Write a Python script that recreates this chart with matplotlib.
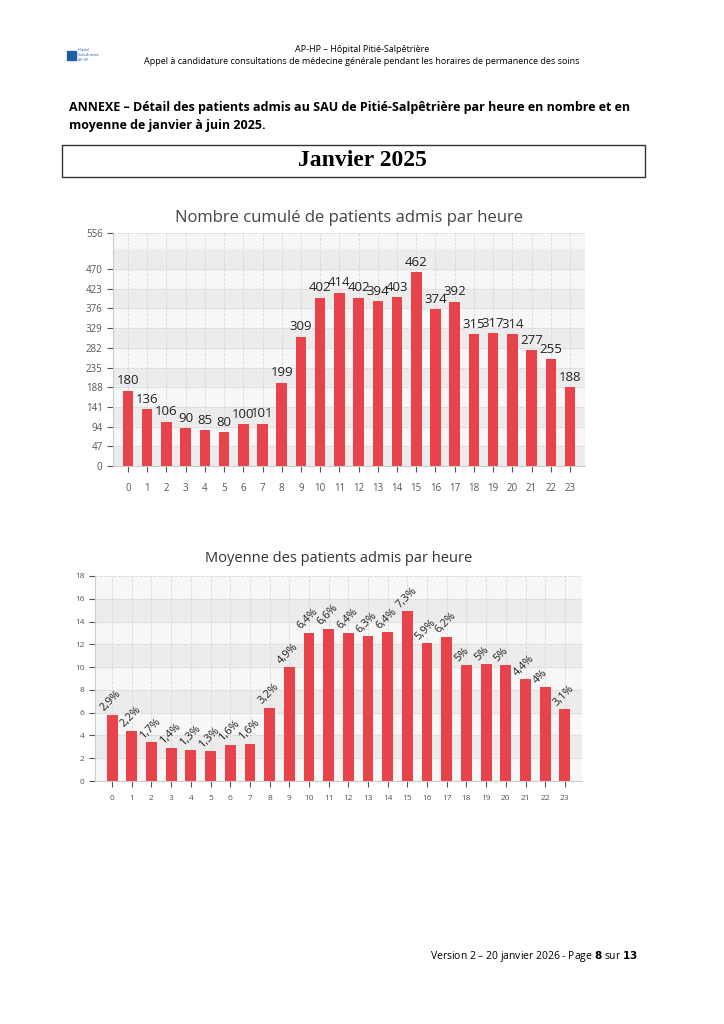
import numpy as np
from matplotlib import pyplot as plt
from matplotlib.patches import Rectangle

hours = list(range(24))
counts = [180, 136, 106, 90, 85, 80, 100, 101, 199, 309, 402, 414,
          402, 394, 403, 462, 374, 392, 315, 317, 314, 277, 255, 188]
means = [5.8, 4.4, 3.4, 2.9, 2.75, 2.6, 3.2, 3.25, 6.45, 10.0, 13.0, 13.35,
         13.0, 12.7, 13.05, 14.9, 12.1, 12.65, 10.2, 10.25, 10.15, 8.95, 8.25, 6.3]
pct_labels = ["2,9%", "2,2%", "1,7%", "1,4%", "1,3%", "1,3%", "1,6%", "1,6%",
              "3,2%", "4,9%", "6,4%", "6,6%", "6,4%", "6,3%", "6,4%", "7,3%",
              "5,9%", "6,2%", "5%", "5%", "5%", "4,4%", "4%", "3,1%"]
top_ticks = [0, 47, 94, 141, 188, 235, 282, 329, 376, 423, 470, 556]

red = "#e8424a"
plt.rcParams['font.family'] = ['Open Sans', 'DejaVu Sans']

fig = plt.figure(figsize=(7.24, 10.24), dpi=100)

# page header
fig.text(0.5, 1 - 49/1024, "AP-HP – Hôpital Pitié-Salpêtrière", ha="center", va="center", fontsize=6.5)
fig.text(0.5, 1 - 61/1024, "Appel à candidature consultations de médecine générale pendant les horaires de permanence des soins",
         ha="center", va="center", fontsize=6.5)
fig.patches.append(Rectangle((67/724, 1 - 60/1024), 9/724, 9/1024, transform=fig.transFigure, color="#1f5fa8"))
fig.text(78/724, 1 - 55/1024, "Hôpital\nSaint-Antoine\nAP-HP", fontsize=2.5, color="#1f5fa8", va="center")
fig.text(69/724, 1 - 107/1024, "ANNEXE – Détail des patients admis au SAU de Pitié-Salpêtrière par heure en nombre et en",
         fontsize=9, weight="bold", va="center")
fig.text(69/724, 1 - 125/1024, "moyenne de janvier à juin 2025.", fontsize=9, weight="bold", va="center")
fig.patches.append(Rectangle((62/724, 1 - 177/1024), 583/724, 32/1024, transform=fig.transFigure,
                             fill=False, ec="#333333", lw=1))
fig.text(0.5, 1 - 161/1024, "Janvier 2025", ha="center", va="center", fontsize=17, weight="bold",
         family="Liberation Serif")
fig.text(638/724, 1 - 957/1024, "Version 2 – 20 janvier 2026 - Page $\\bf{8}$ sur $\\bf{13}$", ha="right",
         va="center", fontsize=7.5)


def style(ax, ymax, bands, pad):
    for lo, hi in bands:
        ax.axhspan(lo, hi, color="#ececec", zorder=0)
    ax.set_facecolor("#f7f7f7")
    ax.grid(True, color="#d8d8d8", ls="--", lw=0.6, zorder=0.5)
    ax.set_axisbelow(True)
    for s in ["top", "right"]:
        ax.spines[s].set_visible(False)
    for s in ["left", "bottom"]:
        ax.spines[s].set_color("#cccccc")
    ax.tick_params(colors="#555555", length=4, labelsize=7)
    ax.set_xlim(-pad, 23 + pad)
    ax.set_ylim(0, ymax)
    ax.set_xticks(hours)


ax1 = fig.add_axes([113/724, 1 - 466/1024, 472/724, 233/1024])
style(ax1, 556, [(top_ticks[i], top_ticks[i] + 47) for i in range(0, 11, 2)], 0.78)
ax1.set_yticks(top_ticks)
ax1.tick_params(axis="x", pad=8)
ax1.bar(hours, counts, width=0.55, color=red, zorder=2)
for h, v in zip(hours, counts):
    ax1.text(h, v + 8, str(v), ha="center", va="bottom", fontsize=9.5, color="#222222")
ax1.set_title("Nombre cumulé de patients admis par heure", fontsize=12, color="#444444", pad=8)

ax2 = fig.add_axes([95/724, 1 - 781/1024, 487/724, 205/1024])
style(ax2, 18, [(2, 4), (6, 8), (10, 12), (14, 16)], 0.87)
ax2.set_yticks(range(0, 19, 2))
ax2.tick_params(labelsize=6, axis="both")
ax2.tick_params(axis="x", pad=6)
ax2.bar(hours, means, width=0.55, color=red, zorder=2)
for h, v, t in zip(hours, means, pct_labels):
    ax2.text(h - 0.3, v + 0.1, t, ha="left", va="bottom", fontsize=8, rotation=45,
             rotation_mode="anchor", color="#222222")
ax2.set_title("Moyenne des patients admis par heure", fontsize=10.5, color="#333333", pad=10)

plt.savefig("out.png")
